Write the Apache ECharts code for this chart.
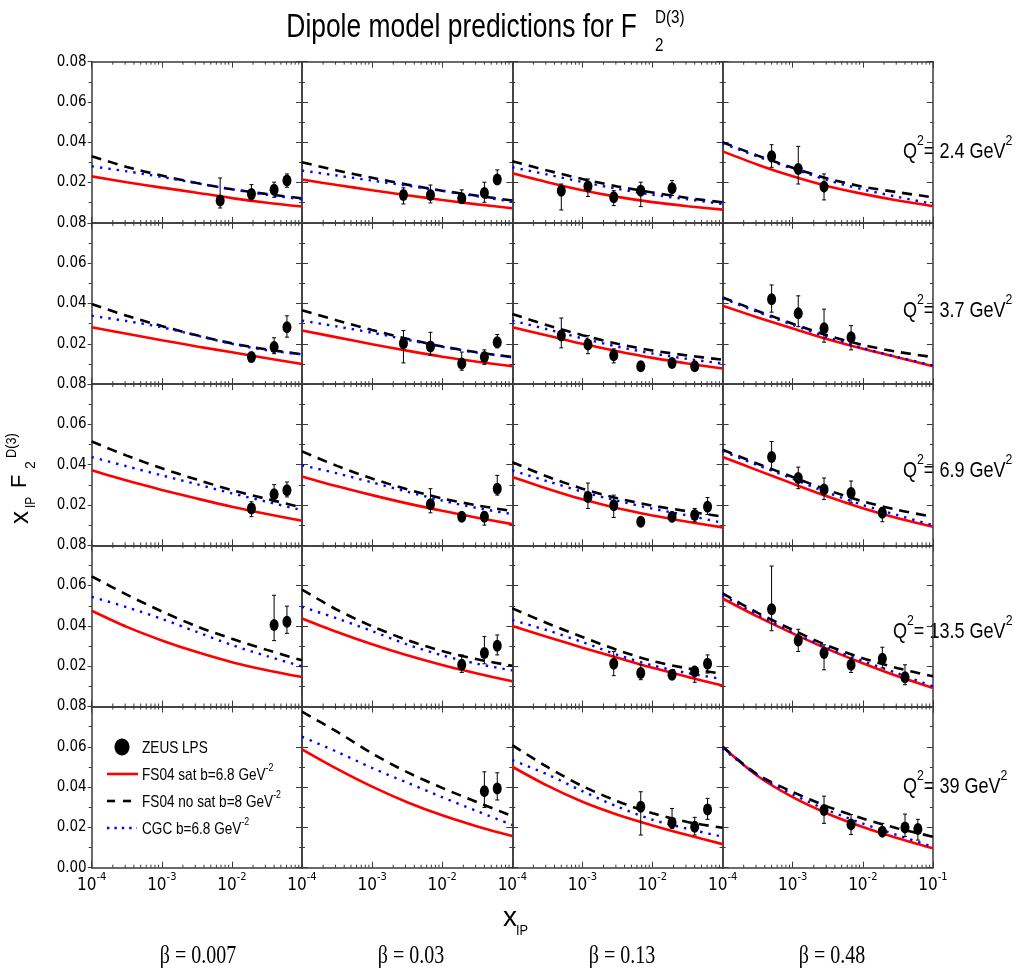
<!DOCTYPE html>
<html><head><meta charset="utf-8">
<script src="https://cdn.jsdelivr.net/npm/echarts@6/dist/echarts.min.js"></script>
<style>html,body{margin:0;padding:0;background:#fff}#c{width:1018px;height:973px}</style>
</head><body><div id="c"></div>
<script>
// ---------------- DATA ----------------
const betaLabels = ['β = 0.007', 'β = 0.03', 'β = 0.13', 'β = 0.48'];
const q2Labels = ['2.4', '3.7', '6.9', '13.5', '39'];
const xTickExponents = [-4, -3, -2, -1];
const yTickLabels = ['0.00', '0.02', '0.04', '0.06', '0.08'];
const curveX = [1e-4, 3.162e-4, 1e-3, 3.162e-3, 1e-2, 3.162e-2, 1e-1];
const seriesNames = ['ZEUS LPS', 'FS04 sat', 'FS04 no sat', 'CGC'];

// Q2 = 2.4  (columns: beta = 0.007, 0.03, 0.13, 0.48)
const satQ24 = [
  [0.0231, 0.0202, 0.0175, 0.0150, 0.0123, 0.0100, 0.0081],
  [0.0215, 0.0188, 0.0162, 0.0137, 0.0114, 0.0092, 0.0073],
  [0.0246, 0.0202, 0.0162, 0.0129, 0.0103, 0.0083, 0.0066],
  [0.0355, 0.0289, 0.0231, 0.0182, 0.0144, 0.0111, 0.0083]];
const nosatQ24 = [
  [0.0331, 0.0278, 0.0235, 0.0198, 0.0167, 0.0143, 0.0122],
  [0.0301, 0.0260, 0.0224, 0.0190, 0.0160, 0.0135, 0.0111],
  [0.0306, 0.0260, 0.0218, 0.0181, 0.0151, 0.0124, 0.0102],
  [0.0400, 0.0334, 0.0274, 0.0220, 0.0180, 0.0152, 0.0127]];
const cgcQ24 = [
  [0.0281, 0.0256, 0.0228, 0.0197, 0.0167, 0.0140, 0.0117],
  [0.0260, 0.0235, 0.0210, 0.0185, 0.0159, 0.0132, 0.0106],
  [0.0276, 0.0240, 0.0203, 0.0169, 0.0140, 0.0117, 0.0094],
  [0.0395, 0.0329, 0.0269, 0.0212, 0.0166, 0.0129, 0.0094]];
// points: [x_IP, value, low, high]
const zeusQ24 = [
  [[0.0068, 0.0111, 0.0074, 0.0223], [0.019, 0.0144, 0.0114, 0.0190], [0.040, 0.0164, 0.0127, 0.0202], [0.061, 0.0210, 0.0177, 0.0243]],
  [[0.0028, 0.0139, 0.0094, 0.0174], [0.0068, 0.0139, 0.0099, 0.0188], [0.019, 0.0122, 0.0099, 0.0164], [0.040, 0.0149, 0.0102, 0.0202], [0.061, 0.0215, 0.0193, 0.0263]],
  [[0.0005, 0.0160, 0.0064, 0.0193], [0.0012, 0.0182, 0.0131, 0.0218], [0.0028, 0.0127, 0.0086, 0.0160], [0.0068, 0.0160, 0.0081, 0.0202], [0.019, 0.0172, 0.0136, 0.0210]],
  [[0.0005, 0.0331, 0.0276, 0.0388], [0.0012, 0.0268, 0.0193, 0.0380], [0.0028, 0.0180, 0.0114, 0.0243]]];

// Q2 = 3.7
const satQ37 = [
  [0.0282, 0.0250, 0.0218, 0.0187, 0.0158, 0.0128, 0.0100],
  [0.0266, 0.0232, 0.0198, 0.0166, 0.0136, 0.0111, 0.0089],
  [0.0282, 0.0241, 0.0200, 0.0163, 0.0130, 0.0102, 0.0077],
  [0.0389, 0.0331, 0.0276, 0.0222, 0.0175, 0.0132, 0.0089]];
const nosatQ37 = [
  [0.0397, 0.0339, 0.0288, 0.0242, 0.0202, 0.0172, 0.0148],
  [0.0367, 0.0316, 0.0269, 0.0225, 0.0187, 0.0158, 0.0134],
  [0.0348, 0.0292, 0.0243, 0.0200, 0.0167, 0.0142, 0.0121],
  [0.0430, 0.0363, 0.0300, 0.0241, 0.0194, 0.0160, 0.0134]];
const cgcQ37 = [
  [0.0339, 0.0313, 0.0282, 0.0241, 0.0200, 0.0168, 0.0148],
  [0.0315, 0.0286, 0.0255, 0.0220, 0.0185, 0.0156, 0.0134],
  [0.0315, 0.0272, 0.0227, 0.0186, 0.0152, 0.0125, 0.0102],
  [0.0426, 0.0358, 0.0294, 0.0233, 0.0179, 0.0134, 0.0093]];
const zeusQ37 = [
  [[0.019, 0.0134, 0.0110, 0.0154], [0.040, 0.0184, 0.0151, 0.0230], [0.061, 0.0282, 0.0233, 0.0339]],
  [[0.0028, 0.0203, 0.0105, 0.0266], [0.0068, 0.0187, 0.0143, 0.0257], [0.019, 0.0102, 0.0069, 0.0159], [0.040, 0.0134, 0.0098, 0.0170], [0.061, 0.0208, 0.0180, 0.0246]],
  [[0.0005, 0.0241, 0.0180, 0.0328], [0.0012, 0.0197, 0.0151, 0.0241], [0.0028, 0.0143, 0.0105, 0.0175], [0.0068, 0.0089, 0.0084, 0.0094], [0.019, 0.0105, 0.0098, 0.0112], [0.040, 0.0089, 0.0083, 0.0095]],
  [[0.0005, 0.0421, 0.0357, 0.0492], [0.0012, 0.0351, 0.0285, 0.0438], [0.0028, 0.0277, 0.0208, 0.0372], [0.0068, 0.0233, 0.0170, 0.0290]]];

// Q2 = 6.9
const satQ69 = [
  [0.0372, 0.0321, 0.0275, 0.0232, 0.0191, 0.0155, 0.0122],
  [0.0342, 0.0293, 0.0249, 0.0208, 0.0171, 0.0137, 0.0105],
  [0.0339, 0.0281, 0.0228, 0.0184, 0.0148, 0.0117, 0.0089],
  [0.0438, 0.0372, 0.0306, 0.0242, 0.0184, 0.0134, 0.0092]];
const nosatQ69 = [
  [0.0515, 0.0445, 0.0382, 0.0326, 0.0274, 0.0230, 0.0188],
  [0.0466, 0.0394, 0.0331, 0.0278, 0.0233, 0.0198, 0.0170],
  [0.0413, 0.0341, 0.0281, 0.0233, 0.0197, 0.0169, 0.0142],
  [0.0474, 0.0405, 0.0339, 0.0274, 0.0218, 0.0175, 0.0142]];
const cgcQ69 = [
  [0.0438, 0.0392, 0.0347, 0.0303, 0.0258, 0.0216, 0.0174],
  [0.0397, 0.0357, 0.0312, 0.0266, 0.0222, 0.0185, 0.0155],
  [0.0372, 0.0318, 0.0266, 0.0221, 0.0182, 0.0148, 0.0112],
  [0.0467, 0.0398, 0.0330, 0.0261, 0.0200, 0.0149, 0.0100]];
const zeusQ69 = [
  [[0.019, 0.0183, 0.0142, 0.0216], [0.040, 0.0253, 0.0216, 0.0301], [0.061, 0.0273, 0.0240, 0.0314]],
  [[0.0068, 0.0204, 0.0161, 0.0281], [0.019, 0.0142, 0.0135, 0.0149], [0.040, 0.0142, 0.0100, 0.0166], [0.061, 0.0281, 0.0249, 0.0347]],
  [[0.0012, 0.0240, 0.0183, 0.0309], [0.0028, 0.0199, 0.0138, 0.0249], [0.0068, 0.0117, 0.0110, 0.0124], [0.019, 0.0142, 0.0117, 0.0158], [0.040, 0.0150, 0.0117, 0.0183], [0.061, 0.0191, 0.0153, 0.0237]],
  [[0.0005, 0.0438, 0.0375, 0.0515], [0.0012, 0.0334, 0.0281, 0.0388], [0.0028, 0.0277, 0.0227, 0.0334], [0.0068, 0.0260, 0.0211, 0.0319], [0.019, 0.0161, 0.0117, 0.0188]]];

// Q2 = 13.5
const satQ135 = [
  [0.0475, 0.0395, 0.0328, 0.0270, 0.0220, 0.0180, 0.0146],
  [0.0437, 0.0370, 0.0309, 0.0254, 0.0206, 0.0164, 0.0125],
  [0.0399, 0.0345, 0.0292, 0.0242, 0.0192, 0.0147, 0.0104],
  [0.0536, 0.0446, 0.0363, 0.0285, 0.0215, 0.0150, 0.0092]];
const nosatQ135 = [
  [0.0646, 0.0555, 0.0472, 0.0398, 0.0336, 0.0281, 0.0229],
  [0.0580, 0.0480, 0.0398, 0.0330, 0.0275, 0.0234, 0.0202],
  [0.0487, 0.0413, 0.0345, 0.0280, 0.0226, 0.0189, 0.0163],
  [0.0561, 0.0465, 0.0380, 0.0302, 0.0240, 0.0190, 0.0150]];
const cgcQ135 = [
  [0.0544, 0.0493, 0.0435, 0.0370, 0.0305, 0.0250, 0.0199],
  [0.0495, 0.0437, 0.0374, 0.0308, 0.0254, 0.0212, 0.0179],
  [0.0429, 0.0378, 0.0320, 0.0256, 0.0204, 0.0166, 0.0136],
  [0.0552, 0.0455, 0.0367, 0.0290, 0.0226, 0.0164, 0.0100]];
const zeusQ135 = [
  [[0.040, 0.0404, 0.0327, 0.0552], [0.061, 0.0421, 0.0363, 0.0498]],
  [[0.019, 0.0207, 0.0169, 0.0256], [0.040, 0.0265, 0.0212, 0.0347], [0.061, 0.0301, 0.0256, 0.0355]],
  [[0.0028, 0.0212, 0.0153, 0.0273], [0.0068, 0.0166, 0.0133, 0.0207], [0.019, 0.0158, 0.0150, 0.0166], [0.040, 0.0174, 0.0120, 0.0199], [0.061, 0.0212, 0.0166, 0.0256]],
  [[0.0005, 0.0483, 0.0376, 0.0697], [0.0012, 0.0327, 0.0273, 0.0383], [0.0028, 0.0265, 0.0182, 0.0306], [0.0068, 0.0207, 0.0169, 0.0240], [0.019, 0.0237, 0.0191, 0.0294], [0.040, 0.0145, 0.0108, 0.0207]]];

// Q2 = 39  (first column holds the legend only)
const satQ39 = [
  null,
  [0.0587, 0.0490, 0.0402, 0.0325, 0.0260, 0.0205, 0.0157],
  [0.0501, 0.0407, 0.0327, 0.0263, 0.0210, 0.0162, 0.0117],
  [0.0600, 0.0455, 0.0350, 0.0268, 0.0202, 0.0146, 0.0096]];
const nosatQ39 = [
  null,
  [0.0774, 0.0675, 0.0567, 0.0474, 0.0396, 0.0325, 0.0256],
  [0.0608, 0.0500, 0.0405, 0.0330, 0.0270, 0.0227, 0.0198],
  [0.0600, 0.0462, 0.0376, 0.0303, 0.0244, 0.0195, 0.0154]];
const cgcQ39 = [
  null,
  [0.0650, 0.0575, 0.0495, 0.0422, 0.0350, 0.0280, 0.0212],
  [0.0534, 0.0463, 0.0380, 0.0303, 0.0238, 0.0193, 0.0154],
  [0.0592, 0.0458, 0.0364, 0.0285, 0.0219, 0.0161, 0.0104]];
const zeusQ39 = [
  [],
  [[0.040, 0.0380, 0.0299, 0.0476], [0.061, 0.0393, 0.0336, 0.0471]],
  [[0.0068, 0.0302, 0.0162, 0.0377], [0.019, 0.0223, 0.0195, 0.0294], [0.040, 0.0203, 0.0162, 0.0250], [0.061, 0.0289, 0.0240, 0.0344]],
  [[0.0028, 0.0286, 0.0220, 0.0355], [0.0068, 0.0215, 0.0165, 0.0264], [0.019, 0.0179, 0.0154, 0.0220], [0.040, 0.0200, 0.0154, 0.0266], [0.061, 0.0192, 0.0137, 0.0240]]];

// ---------------- LAYOUT / STYLE ----------------
const rowsData = [
  {sat: satQ24, nosat: nosatQ24, cgc: cgcQ24, zeus: zeusQ24},
  {sat: satQ37, nosat: nosatQ37, cgc: cgcQ37, zeus: zeusQ37},
  {sat: satQ69, nosat: nosatQ69, cgc: cgcQ69, zeus: zeusQ69},
  {sat: satQ135, nosat: nosatQ135, cgc: cgcQ135, zeus: zeusQ135},
  {sat: satQ39, nosat: nosatQ39, cgc: cgcQ39, zeus: zeusQ39}];

const FN = "'Liberation Sans Narrow','Arial Narrow','DejaVu Sans Condensed',sans-serif";
const FS = "'Liberation Sans',Arial,sans-serif";
const FSERIF = "'Liberation Serif','Times New Roman',serif";
const AX = '#3a3a3a';
const GL = 91.7, GT = 61.7, CW = 210.3, CH = 161.2;
const minorMult = [2, 3, 4, 5, 6, 7, 8, 9];
const RED = '#ff0000', BLUE = '#0000ff';
const redStyle = {color: RED, width: 2.6};
const blackStyle = {color: '#000', width: 2.6, type: [10, 7]};
const blueStyle = {color: BLUE, width: 2.4, type: [2.4, 6]};

const option = {animation: false, backgroundColor: '#fff', grid: [], xAxis: [], yAxis: [], series: []};

function axisLineStyle() { return {show: true, onZero: false, lineStyle: {color: AX, width: 1.5}}; }

for (let r = 0; r < 5; r++) {
  for (let c = 0; c < 4; c++) {
    const g = r * 4 + c;
    option.grid.push({left: GL + c * CW, top: GT + r * CH, width: CW, height: CH});
    const xBase = {gridIndex: g, type: 'log', logBase: 10, min: 1e-4, max: 1e-1,
      axisLine: axisLineStyle(), splitLine: {show: false},
      axisTick: {show: true, inside: true, length: 6, lineStyle: {color: AX, width: 1}}};
    option.xAxis.push(Object.assign({}, xBase, {position: 'bottom',
      axisLabel: {show: r === 4, margin: 4, color: '#000',
        showMinLabel: true, showMaxLabel: true,
        formatter: (v) => {
          const e = Math.round(Math.log10(v));
          if (e === -1 && c < 3) return '';
          return '{b|10}{s|' + e + '}';
        },
        rich: {b: {fontFamily: FN, fontSize: 17, color: '#000', verticalAlign: 'bottom', lineHeight: 22},
               s: {fontFamily: FN, fontSize: 11, color: '#000', verticalAlign: 'top', lineHeight: 11}}}}));
    option.xAxis.push(Object.assign({}, xBase, {position: 'top', axisLabel: {show: false}}));
    const yBase = {gridIndex: g, type: 'value', min: 0, max: 0.08, interval: 0.02,
      axisLine: axisLineStyle(), splitLine: {show: false}, minorSplitLine: {show: false}};
    option.yAxis.push(Object.assign({}, yBase, {position: 'left',
      axisTick: {show: true, inside: c !== 0, length: c === 0 ? 4 : 6, lineStyle: {color: AX, width: 1}},
      minorTick: {show: true, splitNumber: 2, length: 3, lineStyle: {color: AX, width: 1}},
      axisLabel: {show: c === 0, margin: 5, color: '#000', fontFamily: FN, fontSize: 15,
        formatter: (v) => {
          const i = Math.round(v / 0.02);
          if (i === 0 && r < 4) return '';
          return yTickLabels[i];
        }}}));
    option.yAxis.push(Object.assign({}, yBase, {position: 'right',
      axisTick: {show: true, inside: true, length: 6, lineStyle: {color: AX, width: 1}},
      minorTick: {show: true, splitNumber: 2, length: 3, lineStyle: {color: AX, width: 1}},
      axisLabel: {show: false}}));

    const xi = 2 * g, yi = 2 * g;
    // log minor ticks (axis decoration)
    option.series.push({type: 'custom', name: 'ticks', xAxisIndex: xi, yAxisIndex: yi, silent: true, clip: false,
      data: [[1e-3, 0.04]], z: 1,
      renderItem: (p, api) => {
        const ch = [];
        for (let e = -4; e <= -2; e++) for (const m of minorMult) {
          const v = m * Math.pow(10, e);
          const a = api.coord([v, 0]), b = api.coord([v, 0.08]);
          ch.push({type: 'line', shape: {x1: a[0], y1: a[1], x2: a[0], y2: a[1] - 3}, style: {stroke: AX, lineWidth: 1}});
          ch.push({type: 'line', shape: {x1: b[0], y1: b[1], x2: b[0], y2: b[1] + 3}, style: {stroke: AX, lineWidth: 1}});
        }
        return {type: 'group', children: ch};
      }});

    const rd = rowsData[r];
    const mk = (arr) => curveX.map((x, i) => [x, arr[i]]);
    if (rd.sat[c]) {
      const common = {xAxisIndex: xi, yAxisIndex: yi, smooth: 0.3, symbol: 'none', showSymbol: false};
      option.series.push(Object.assign({type: 'line', name: 'FS04 sat', data: mk(rd.sat[c]), z: 3, lineStyle: redStyle, itemStyle: {color: RED}}, common));
      option.series.push(Object.assign({type: 'line', name: 'FS04 no sat', data: mk(rd.nosat[c]), z: 4, lineStyle: blackStyle, itemStyle: {color: '#000'}}, common));
      option.series.push(Object.assign({type: 'line', name: 'CGC', data: mk(rd.cgc[c]), z: 5, lineStyle: blueStyle, itemStyle: {color: BLUE}}, common));
    }
    const pts = rd.zeus[c];
    if (pts && pts.length) {
      option.series.push({type: 'custom', name: 'errors', xAxisIndex: xi, yAxisIndex: yi, z: 6, silent: true,
        data: pts.map(p => [p[0], p[2], p[3]]),
        encode: {x: 0, y: [1, 2]},
        renderItem: (p, api) => {
          const x = api.value(0);
          const a = api.coord([x, api.value(1)]), b = api.coord([x, api.value(2)]);
          const st = {stroke: '#000', lineWidth: 1};
          return {type: 'group', children: [
            {type: 'line', shape: {x1: a[0], y1: a[1], x2: b[0], y2: b[1]}, style: st},
            {type: 'line', shape: {x1: a[0] - 2, y1: a[1], x2: a[0] + 2, y2: a[1]}, style: st},
            {type: 'line', shape: {x1: b[0] - 2, y1: b[1], x2: b[0] + 2, y2: b[1]}, style: st}]};
        }});
      option.series.push({type: 'scatter', name: 'ZEUS LPS', xAxisIndex: xi, yAxisIndex: yi, z: 7,
        data: pts.map(p => [p[0], p[1]]), symbol: 'circle', symbolSize: [9, 12], itemStyle: {color: '#000', opacity: 1}});
    }
  }
}

const gr = [];
const tx = (x, y, text, font, extra) => Object.assign({type: 'text', x, y,
  style: {text, font, fill: '#000', textAlign: 'left', textVerticalAlign: 'middle', align: 'left', verticalAlign: 'middle'}}, extra || {});
// title
const title = tx(637, 28, 'Dipole model predictions for F', '33px ' + FS, {scaleX: 0.8});
title.style.textAlign = title.style.align = 'right';
gr.push(title);
gr.push(tx(655, 18, 'D(3)', '19px ' + FS, {scaleX: 0.8}));
gr.push(tx(655, 46, '2', '19px ' + FS, {scaleX: 0.8}));
// beta labels
const betaX = [198, 411, 622, 832];
betaLabels.forEach((t, i) => {
  const e = tx(betaX[i], 956, t, '25px ' + FSERIF, {scaleX: 0.8});
  e.style.textAlign = e.style.align = 'center';
  gr.push(e);
});
// Q2 labels
const qX = [903, 903, 903, 893, 903], qY = [148, 307, 467, 628, 783];
const supRich = {m: {fontFamily: FS, fontSize: 22, fill: '#000', verticalAlign: 'bottom', lineHeight: 30},
                 s: {fontFamily: FS, fontSize: 15, fill: '#000', verticalAlign: 'top', lineHeight: 15}};
q2Labels.forEach((q, i) => {
  const e = tx(qX[i], qY[i], '{m|Q}{s|2}{m|= ' + q + ' GeV}{s|2}', null, {scaleX: 0.82});
  delete e.style.font; e.style.rich = supRich;
  gr.push(e);
});
// legend (drawn as graphic, inside the empty bottom-left panel)
const legendLines = [
  {t: 'ZEUS LPS', sup: ''}, {t: 'FS04 sat b=6.8 GeV', sup: '-2'},
  {t: 'FS04 no sat b=8 GeV', sup: '-2'}, {t: 'CGC b=6.8 GeV', sup: '-2'}];
const legY = [747, 774, 801, 828];
const legRich = {m: {fontFamily: FS, fontSize: 17, fill: '#000', verticalAlign: 'bottom', lineHeight: 22},
                 s: {fontFamily: FS, fontSize: 11, fill: '#000', verticalAlign: 'top', lineHeight: 11}};
gr.push({type: 'ellipse', shape: {cx: 122, cy: legY[0], rx: 7.5, ry: 8.5}, style: {fill: '#000'}});
gr.push({type: 'line', shape: {x1: 107, y1: legY[1], x2: 138, y2: legY[1]}, style: {stroke: RED, lineWidth: 2.6}});
gr.push({type: 'line', shape: {x1: 107, y1: legY[2], x2: 132, y2: legY[2]}, style: {stroke: '#000', lineWidth: 2.6, lineDash: [8, 8]}});
gr.push({type: 'line', shape: {x1: 107, y1: legY[3], x2: 137, y2: legY[3]}, style: {stroke: BLUE, lineWidth: 2.4, lineDash: [2.4, 5]}});
legendLines.forEach((l, i) => {
  const txt = '{m|' + l.t + '}' + (l.sup ? '{s|' + l.sup + '}' : '');
  const e = tx(142, legY[i] - 1, txt, null, {scaleX: 0.8});
  delete e.style.font; e.style.rich = legRich;
  gr.push(e);
});
// x-axis title
gr.push(tx(503, 918, 'x', '28px ' + FS));
gr.push(tx(516, 931, 'IP', '15px ' + FS, {scaleX: 0.85}));
// y-axis title (rotated, reads bottom to top)
gr.push({type: 'group', x: 28, y: 524, rotation: Math.PI / 2, children: [
  tx(0, -7, 'x', '26px ' + FS),
  tx(16, 3, 'IP', '14px ' + FS, {scaleX: 0.85}),
  tx(36, -8, 'F', '22px ' + FS),
  tx(55, 3, '2', '14px ' + FS),
  tx(66, -16, 'D(3)', '15px ' + FS, {scaleX: 0.85})]});
option.graphic = gr;

const chart = echarts.init(document.getElementById('c'), null, {renderer: 'canvas'});
chart.setOption(option);
</script></body></html>
